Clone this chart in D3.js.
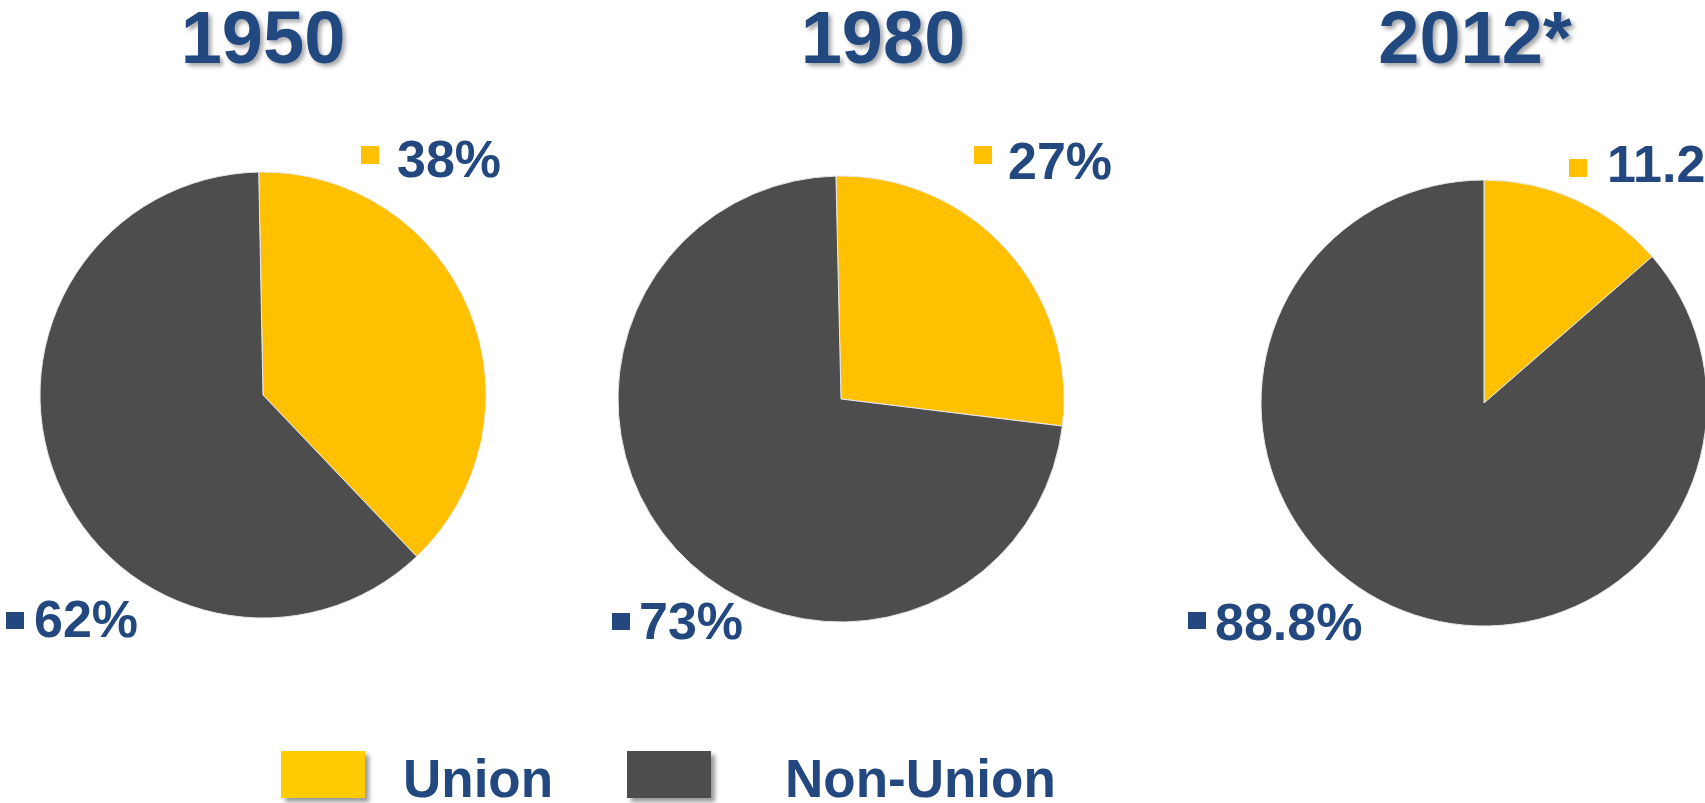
<!DOCTYPE html>
<html>
<head>
<meta charset="utf-8">
<script src="https://cdnjs.cloudflare.com/ajax/libs/d3/7.8.5/d3.min.js"></script>
<style>
  html, body { margin: 0; padding: 0; background: #fff; overflow: hidden; }
</style>
</head>
<body>
<div id="chart"></div>
<script>
// Data
var years = ["1950", "1980", "2012*"];
var categories = ["Union", "Non-Union"];
var unionShare = [38.2, 27.3, 13.6];      // slice size as drawn
var unionLabels = ["38%", "27%", "11.2%"];
var nonUnionLabels = ["62%", "73%", "88.8%"];

// Layout (not data)
var attrs = {
  svgWidth: 1705,
  svgHeight: 803,
  radius: 223,
  defaultFont: "'Liberation Sans', Arial, Helvetica, sans-serif",
  textColor: "#23487f"
};

var colors = {
  union: "#ffc000",
  nonUnion: "#4d4d4d",
  legendUnion: "#ffcc00"
};

var pieLayout = [
  { cx: 263, cy: 395, tilt: -1.1, titleX: 263, unionSq: [361, 146], unionTx: 397, unionY: 177, nonSq: [6, 612], nonTx: 34, nonY: 637 },
  { cx: 841, cy: 399, tilt: -1.3, titleX: 883, unionSq: [974, 146], unionTx: 1008, unionY: 179, nonSq: [612, 613], nonTx: 639, nonY: 639 },
  { cx: 1484, cy: 403, tilt: 0, titleX: 1475, unionSq: [1569, 159], unionTx: 1607, unionY: 182, nonSq: [1188, 612], nonTx: 1215, nonY: 640 }
];

var svg = d3.select("#chart").append("svg")
  .attr("width", attrs.svgWidth)
  .attr("height", attrs.svgHeight)
  .attr("font-family", attrs.defaultFont);

//Shadow filters
var defs = svg.append("defs");
defs.append("filter").attr("id", "textShadow")
  .attr("x", "-10%").attr("y", "-10%").attr("width", "130%").attr("height", "140%")
  .append("feDropShadow")
  .attr("dx", 3).attr("dy", 3).attr("stdDeviation", 2)
  .attr("flood-color", "#000").attr("flood-opacity", 0.35);
defs.append("filter").attr("id", "boxShadow")
  .attr("x", "-10%").attr("y", "-10%").attr("width", "130%").attr("height", "140%")
  .append("feDropShadow")
  .attr("dx", 4).attr("dy", 4).attr("stdDeviation", 2)
  .attr("flood-color", "#000").attr("flood-opacity", 0.4);

var arc = d3.arc().innerRadius(0).outerRadius(attrs.radius);

years.forEach(function (year, i) {
  var lay = pieLayout[i];
  var values = [unionShare[i], 100 - unionShare[i]];
  var start = lay.tilt * Math.PI / 180;

  var pie = d3.pie()
    .sort(null)
    .startAngle(start)
    .endAngle(start + 2 * Math.PI)
    .value(function (d) { return d; });

  var g = svg.append("g")
    .attr("class", "pie-" + i)
    .attr("transform", "translate(" + lay.cx + "," + lay.cy + ")");

  g.selectAll("path")
    .data(pie(values))
    .enter()
    .append("path")
    .attr("d", arc)
    .attr("fill", function (d, j) { return j == 0 ? colors.union : colors.nonUnion; })
    .attr("stroke", "#e8e8e8")
    .attr("stroke-width", 1);

  // Title
  svg.append("text")
    .attr("x", lay.titleX)
    .attr("y", 63)
    .attr("text-anchor", "middle")
    .attr("font-size", 74)
    .attr("font-weight", "bold")
    .attr("fill", attrs.textColor)
    .attr("filter", "url(#textShadow)")
    .text(year);

  // Union label
  svg.append("rect")
    .attr("x", lay.unionSq[0]).attr("y", lay.unionSq[1])
    .attr("width", 18).attr("height", 18)
    .attr("fill", colors.union);
  svg.append("text")
    .attr("x", lay.unionTx).attr("y", lay.unionY)
    .attr("font-size", 52).attr("font-weight", "bold")
    .attr("fill", attrs.textColor)
    .text(unionLabels[i]);

  // Non-union label
  svg.append("rect")
    .attr("x", lay.nonSq[0]).attr("y", lay.nonSq[1])
    .attr("width", 18).attr("height", 17)
    .attr("fill", attrs.textColor);
  svg.append("text")
    .attr("x", lay.nonTx).attr("y", lay.nonY)
    .attr("font-size", 52).attr("font-weight", "bold")
    .attr("fill", attrs.textColor)
    .text(nonUnionLabels[i]);
});

// Legend
var legendPos = [
  { rx: 281, tx: 403, color: colors.legendUnion },
  { rx: 627, tx: 785, color: colors.nonUnion }
];

var legend = svg.selectAll(".legend-item")
  .data(categories)
  .enter()
  .append("g")
  .attr("class", "legend-item");

legend.append("rect")
  .attr("x", function (d, i) { return legendPos[i].rx; })
  .attr("y", 751)
  .attr("width", 84)
  .attr("height", 47)
  .attr("fill", function (d, i) { return legendPos[i].color; })
  .attr("filter", "url(#boxShadow)");

legend.append("text")
  .attr("x", function (d, i) { return legendPos[i].tx; })
  .attr("y", 797)
  .attr("font-size", 53)
  .attr("font-weight", "bold")
  .attr("fill", attrs.textColor)
  .text(function (d) { return d; });
</script>
</body>
</html>
